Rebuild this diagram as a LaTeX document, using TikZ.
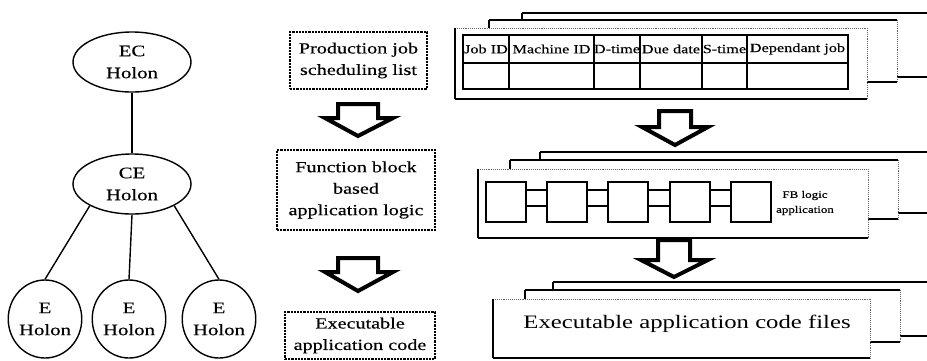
\documentclass[tikz,border=0pt]{standalone}
\usepackage{fontspec}
\setmainfont{Liberation Serif}[FakeStretch=1.3]
\newfontfamily\heavyfont{Liberation Serif}[FakeStretch=1.3,FakeBold=0.35]
\usetikzlibrary{shapes.geometric}
\newcommand\mysheet[5][black!60, densely dotted, line width=0.9pt]{%
  \fill[white] (#2,#3) rectangle (#4,#5);
  \draw[#1] (#2,#3) -- (#4,#3);
  \draw[black!60, densely dotted, line width=0.9pt] (#4,#3) -- (#4,#5);
  \draw[line width=1.1pt] (#2,#3) -- (#2,#5);
  \draw[line width=2pt] (#2,#5) -- (#4,#5);
}
\begin{document}
\begin{tikzpicture}[x=1pt,y=-1pt,
  holon/.style={ellipse, draw, line width=1.4pt, inner sep=0pt, align=center, font=\heavyfont\fontsize{16}{22}\selectfont},
  stepbox/.style={draw, line width=2.2pt, densely dotted, align=center, inner sep=0pt, font=\heavyfont\fontsize{15.5}{21.5}\selectfont},
  blk/.style={draw, fill=white, line width=4pt, line join=miter},
  edge/.style={line width=1.4pt},
  fb/.style={draw, line width=1.1pt, minimum width=40pt, minimum height=40pt, inner sep=0pt},
  hdr/.style={inner sep=0pt, font=\heavyfont\fontsize{12.5}{14}\selectfont},
  link/.style={line width=1.1pt}]
\useasboundingbox (0,0) rectangle (927,360);
\clip (0,0) rectangle (927,360);

% ---- holon hierarchy ----
\node[holon, minimum width=118pt, minimum height=60pt] (EC) at (132,62) {EC\\Holon};
\node[holon, minimum width=118pt, minimum height=60pt] (CE) at (132,184) {CE\\Holon};
\node[holon, minimum width=71pt, minimum height=78pt] (E1) at (45,319) {E\\Holon};
\node[holon, minimum width=71pt, minimum height=78pt] (E2) at (129,319) {E\\Holon};
\node[holon, minimum width=67pt, minimum height=78pt] (E3) at (219,319) {E\\Holon};
\draw[edge] (EC) -- (CE);
\draw[edge] (CE.south west) -- (E1.north);
\draw[edge] (CE.south) -- (E2.north);
\draw[edge] (CE.south east) -- (E3.north);

% ---- middle column ----
\node[stepbox, minimum width=137pt, minimum height=57pt] (P1) at (358.5,60.5) {Production job\\scheduling list};
\node[stepbox, minimum width=158pt, minimum height=80pt] (P2) at (356,190) {Function block\\based\\application logic};
\node[stepbox, minimum width=150pt, minimum height=47pt] (P3) at (360,335.5) {Executable\\application code};
\draw[blk] (338,104) -- (378,104) -- (378,118) -- (393,118) -- (358,136) -- (325,118) -- (338,118) -- cycle;
\draw[blk] (338,258) -- (378,258) -- (378,272) -- (393,272) -- (358,291) -- (325,272) -- (338,272) -- cycle;

% ---- top stack: scheduling table ----
\mysheet[line width=1.8pt]{522}{13}{935}{77}
\mysheet[line width=1.1pt]{489}{20}{897}{82}
\mysheet{455}{28}{867}{99}
\draw[line width=1.1pt] (463,35) rectangle (848,89);
\draw[line width=1.1pt] (463,63) -- (848,63);
\foreach \cx in {509,594,640,702,747} \draw[line width=1.1pt] (\cx,35) -- (\cx,89);
\node[hdr] (h1) at (486,49) {Job ID};
\node[hdr] (h2) at (551.5,49) {Machine ID};
\node[hdr] (h3) at (617,49) {D-time};
\node[hdr] (h4) at (671,49) {Due date};
\node[hdr] (h5) at (724.5,49) {S-time};
\node[hdr] (h6) at (797.5,49) {Dependant job};

\draw[blk] (659,111) -- (691,111) -- (691,127) -- (708,127) -- (675,145) -- (642,127) -- (659,127) -- cycle;

% ---- middle stack: FB logic ----
\mysheet[line width=1.8pt]{540}{152}{935}{213}
\mysheet[line width=1.1pt]{510}{160}{898}{219}
\mysheet{478}{169}{868}{238}
\node[fb] (f1) at (506,202) {};
\node[fb] (f2) at (567,202) {};
\node[fb] (f3) at (628,202) {};
\node[fb] (f4) at (690,202) {};
\node[fb] (f5) at (751,202) {};
\foreach \a/\b in {f1/f2,f2/f3,f3/f4,f4/f5} {
  \draw[link] ([yshift=12pt]\a.east) -- ([yshift=12pt]\b.west);
  \draw[link] ([yshift=-4pt]\a.east) -- ([yshift=-4pt]\b.west);
}
\node[inner sep=0pt, align=center, font=\heavyfont\fontsize{10}{15}\selectfont] (fbl) at (805,203) {FB logic\\application};

\draw[blk] (658,240) -- (690,240) -- (690,260) -- (708,260) -- (674,277) -- (641,260) -- (658,260) -- cycle;

% ---- bottom stack: executable files ----
\mysheet[line width=1.8pt]{553}{282}{935}{336}
\mysheet[line width=1.1pt]{525}{290}{900}{342}
\mysheet{493}{299}{870}{358}
\node[inner sep=0pt, font=\fontsize{19}{22}\selectfont] (exe) at (687,324) {Executable application code files};
\end{tikzpicture}
\end{document}
